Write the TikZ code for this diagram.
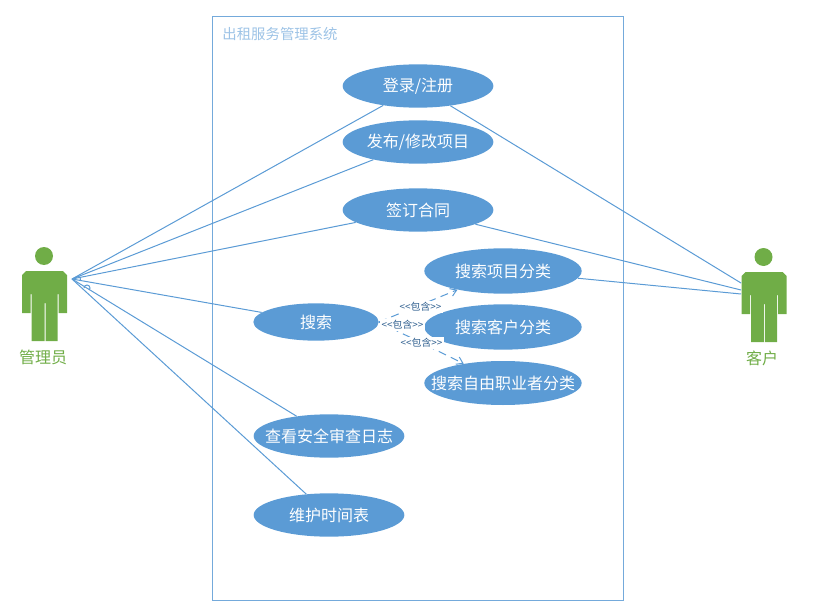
\documentclass[tikz,border=0pt]{standalone}
\usepackage{fontspec}
\setmainfont{Noto Sans CJK SC}
\usepackage{xcolor}
\usepackage{tikz}
\usetikzlibrary{shapes.geometric,positioning,calc,arrows.meta}
\definecolor{ucblue}{HTML}{5B9BD5}
\definecolor{actorgreen}{HTML}{70AD47}
\definecolor{titleblue}{HTML}{9DC3E6}
\definecolor{inclblue}{HTML}{2F5F8F}
\newcommand{\uctext}[1]{\makebox[0pt]{#1}}
\tikzset{
  usecase/.style={ellipse, fill=ucblue, text=white, inner sep=0pt, minimum width=113pt, minimum height=32.5pt, font=\fontsize{12pt}{14pt}\selectfont},
  wideuc/.style={usecase, minimum width=118pt, minimum height=34pt},
  assoc/.style={draw=ucblue, line width=0.75pt},
  incl/.style={draw=ucblue, line width=0.75pt, dashed, dash pattern=on 6pt off 4pt, -{Straight Barb[length=4.5pt,width=6pt]}},
  incllabel/.style={fill=white, text=inclblue, inner sep=0pt, minimum width=33.5pt, minimum height=9pt, font=\fontsize{7.4pt}{8pt}\selectfont},
  actorname/.style={text=actorgreen, inner sep=0pt, font=\fontsize{12pt}{14pt}\selectfont},
  actor/.pic={
    \fill[actorgreen] (-0.5,0) circle (9);
    \fill[actorgreen] (-22.5,19) -- (-18.5,15) -- (18.5,15) -- (22.5,19) -- (22.5,57) -- (14,57) -- (14,38) -- (13,38) -- (13,85)
      -- (1,85) -- (1,47) -- (0,47) -- (0,85) -- (-13,85) -- (-13,38) -- (-14,38) -- (-14,57) -- (-22.5,57) -- cycle;
  }
}

\begin{document}
\begin{tikzpicture}[x=0.75pt, y=-0.75pt]
  \useasboundingbox (0,0) rectangle (814,610);

  % system frame
  \draw[ucblue!85, line width=0.75pt] (212.5,17) rectangle (623,600);
  \node[text=titleblue, inner sep=0pt, font=\fontsize{10.8pt}{13pt}\selectfont] (systitle) at (280,34) {出租服务管理系统};

  % actors
  \pic at (44.5,256) {actor};
  \pic at (764,257) {actor};
  \node[actorname] (adminname) at (43,357) {管理员};
  \node[actorname] (custname) at (762,358) {客户};
  \coordinate (admin) at (72,279);
  \coordinate (custa) at (741,283);
  \coordinate (custb) at (741,290);
  \coordinate (custc) at (741,294);

  % use cases
  \node[usecase] (login) at (418,86) {\uctext{登录/注册}};
  \node[usecase] (publish) at (418,142) {\uctext{发布/修改项目}};
  \node[usecase] (contract) at (418,210) {\uctext{签订合同}};
  \node[usecase, minimum width=94pt, minimum height=28pt] (search) at (316,322) {\uctext{搜索}};
  \node[wideuc] (projsearch) at (503,271) {\uctext{搜索项目分类}};
  \node[wideuc] (custsearch) at (503,327) {\uctext{搜索客户分类}};
  \node[wideuc, minimum height=33pt] (freesearch) at (503,383) {\uctext{搜索自由职业者分类}};
  \node[usecase] (review) at (329,436) {\uctext{查看安全审查日志}};
  \node[usecase] (timetable) at (329,515) {\uctext{维护时间表}};

  % admin lines
  \draw[assoc] (admin) -- (login);
  \draw[assoc] (admin) -- (publish);
  \draw[assoc] (admin) -- (contract);
  \draw[assoc] (admin) -- (search);
  \draw[assoc] (admin) -- (review);
  \draw[assoc] (admin) -- (timetable);
  \draw[assoc] (75.5,279) arc (180:400:2.5);
  \draw[assoc] (84,288) arc (180:400:3);

  % customer lines
  \draw[assoc] (custa) -- (login);
  \draw[assoc] (custb) -- (contract);
  \draw[assoc] (custc) -- (projsearch);

  % include arrows
  \draw[incl] (search.east) -- (projsearch);
  \draw[incl] (search.east) -- (custsearch);
  \draw[incl] (search.east) -- (freesearch);
  \node[incllabel] (inclproj) at (420.5,307) {<{}<包含>{}>};
  \node[incllabel] (inclcust) at (402.5,324.5) {<{}<包含>{}>};
  \node[incllabel] (inclfree) at (421.5,343) {<{}<包含>{}>};
\end{tikzpicture}
\end{document}
